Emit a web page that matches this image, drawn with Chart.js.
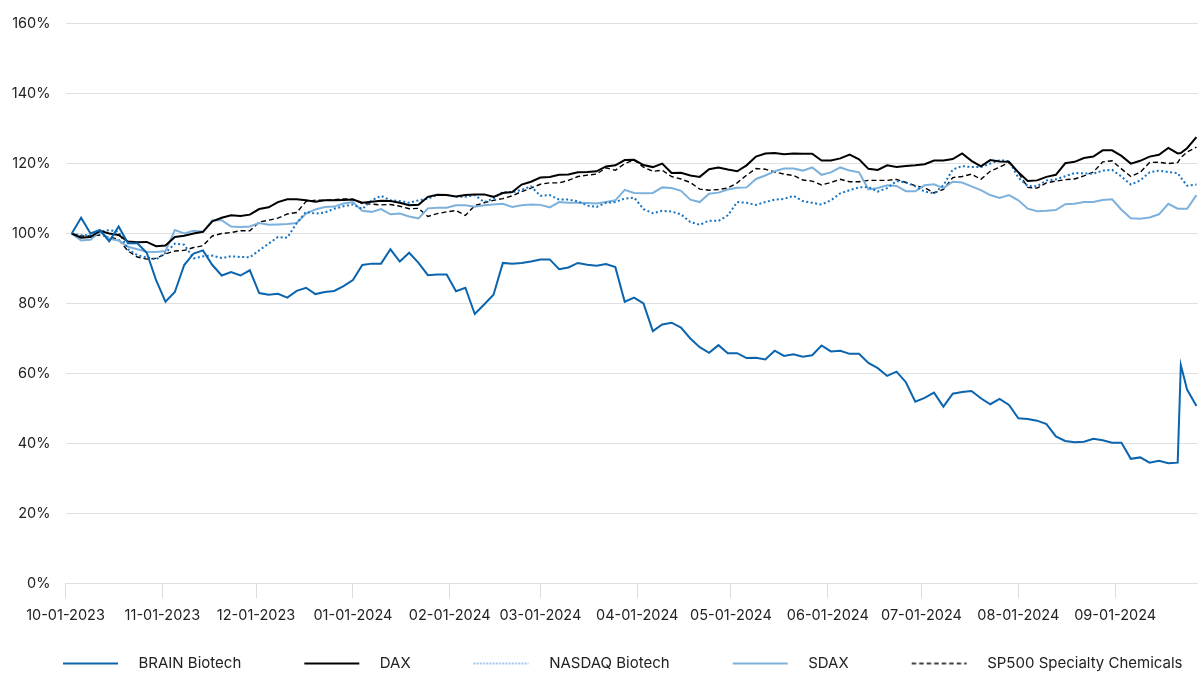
<!DOCTYPE html>
<html>
<head>
<meta charset="utf-8">
<script src="https://cdn.jsdelivr.net/npm/chart.js@4.4.1/dist/chart.umd.min.js"></script>
<style>
  html, body { margin: 0; padding: 0; overflow: hidden; background: #ffffff; }
  #wrap { position: relative; width: 1198px; height: 681px; }
</style>
</head>
<body>
<div id="wrap"><canvas id="chart"></canvas></div>
<script>
// Day offsets counted from 10-01-2023
const days = [
  2,5,8,11,14,17,20,23,26,29,
  32,35,38,41,44,47,50,53,56,59,
  62,65,68,71,74,77,80,83,86,89,
  92,95,98,101,104,107,110,113,116,119,
  122,125,128,131,134,137,140,143,146,149,
  152,155,158,161,164,167,170,173,176,179,
  182,185,188,191,194,197,200,203,206,209,
  212,215,218,221,224,227,230,233,236,239,
  242,245,248,251,254,257,260,263,266,269,
  272,275,278,281,284,287,290,293,296,299,
  302,305,308,311,314,317,320,323,326,329,
  332,335,338,341,344,347,350,353,356,
  357,359,362
];

const tickDays = [0,31,61,92,123,152,183,213,244,274,305,336];
const tickLabels = ['10-01-2023','11-01-2023','12-01-2023','01-01-2024','02-01-2024','03-01-2024',
                    '04-01-2024','05-01-2024','06-01-2024','07-01-2024','08-01-2024','09-01-2024'];

const brainBiotech = [
  100,104.5,100,101,97.8,102,97.2,97.2,94.5,86.7,
  80.5,83.3,91,94.3,95.2,91,88,89,88,89.5,
  83,82.5,82.8,81.7,83.6,84.5,82.7,83.3,83.6,85,
  86.7,91,91.4,91.4,95.5,92,94.5,91.6,88.1,88.3,
  88.3,83.5,84.5,77,79.7,82.5,91.6,91.4,91.6,92,
  92.6,92.6,89.8,90.3,91.6,91.1,90.8,91.3,90.4,80.5,
  81.7,80,72.1,74,74.5,73.1,70,67.5,65.9,68.1,
  65.8,65.8,64.4,64.5,64,66.5,65,65.5,64.8,65.2,
  68,66.3,66.5,65.6,65.6,63,61.5,59.3,60.5,57.5,
  51.9,53,54.5,50.5,54.2,54.7,55,52.9,51.2,52.7,
  51,47.2,47,46.5,45.5,42,40.7,40.3,40.5,41.3,
  40.9,40.2,40.2,35.6,36,34.5,35,34.3,34.5,
  62.4,55.4,50.7
];

const dax = [
  100,98.8,99,100.8,100,99.6,97.7,97.5,97.6,96.4,
  96.6,99,99.4,100,100.5,103.5,104.5,105.2,105,105.4,
  107,107.5,109,109.8,109.8,109.5,109.1,109.5,109.5,109.6,
  109.7,108.8,109.1,109.4,109.3,108.8,108.1,108.2,110.5,111.1,
  111,110.6,111,111.2,111.2,110.5,111.6,111.9,114,114.8,
  116,116.2,116.8,116.9,117.5,117.6,117.8,119.2,119.5,121,
  121.1,119.6,119,120,117.3,117.4,116.6,116.2,118.4,118.9,
  118.3,117.8,119.5,122,122.9,123,122.7,122.9,122.8,122.8,
  120.9,120.9,121.5,122.6,121.2,118.5,118.2,119.5,119,119.3,
  119.5,119.8,120.9,120.9,121.3,122.9,120.8,119.2,121,120.6,
  120.5,117.5,115,115.2,116.2,116.8,120.1,120.5,121.6,122,
  123.8,123.8,122.2,120,120.8,122,122.5,124.5,122.9,
  123,124.4,127.6
];

const nasdaqBiotech = [
  100,99.5,99.5,100.5,101,100.5,95.5,93.8,93.2,92.6,
  94.5,97.1,96.8,92.9,93.5,93.7,93,93.5,93.3,93.2,
  95.2,97.1,99,98.8,103,106.2,105.7,106,107.1,107.8,
  108.3,107,109.5,110.8,109.5,109.3,108.8,109.5,110,111,
  111,110.5,110.5,111,109,110,111.9,111.8,112.5,113.5,
  110.8,111,109.7,109.7,109.2,108,107.6,108.8,109,110,
  110.3,107,105.8,106.5,106.3,105.5,103.3,102.5,103.7,103.6,
  105.2,109,108.8,108.2,109,109.7,109.9,110.8,109.3,108.8,
  108.3,109.5,111.5,112.4,113.2,113.3,112,113,115,114.6,
  113.5,112,111.5,113.8,118.3,119.3,119,119,120,121,
  120.7,116,113.6,113.5,115.2,115.5,116.4,117.3,117.2,117.1,
  118,118.2,116.3,114,115.2,117.5,118,117.6,117.3,
  116,113.7,114
];

const sdax = [
  100,98,98.2,100.5,98.5,98,96.2,95.5,94.8,94.7,
  95,101,100,100.8,100.5,103.8,103.8,102,101.9,102,
  103,102.5,102.6,102.7,103,105.7,106.9,107.6,107.7,108.6,
  109,106.5,106.2,107,105.5,105.7,104.9,104.3,107.2,107.4,
  107.4,108.1,108.1,107.7,108.1,108.3,108.5,107.6,108.1,108.3,
  108.2,107.5,109,108.8,108.8,108.7,108.6,109,109.5,112.5,
  111.6,111.5,111.6,113.2,113,112.2,109.7,109,111.4,111.7,
  112.6,113.1,113.2,115.6,116.6,117.8,118.6,118.6,118,118.9,
  116.8,117.5,118.9,118,117.5,112.6,113,113.8,113.6,112.1,
  112.1,113.8,114.1,113,114.8,114.6,113.5,112.4,111,110.2,
  111,109.5,107.1,106.4,106.5,106.7,108.4,108.5,109,109,
  109.6,109.8,106.8,104.4,104.2,104.6,105.5,108.5,107.1,
  107.1,107.1,111
];

const sp500SpecialtyChemicals = [
  100,99.3,99.3,99.6,99,98.3,95,93.3,92.7,92.9,
  94.2,95,95.2,96,96.5,99.3,100,100.3,100.8,100.8,
  103.3,103.8,104.4,105.6,106,109.2,109.5,109.5,109.7,109.9,
  109.8,108.6,108.4,108.2,108.3,107.8,107.1,107.2,104.9,105.7,
  106.2,106.6,105.2,108,108.8,109.5,110,110.8,112,113,
  114.1,114.5,114.5,115.2,116.3,116.7,117,118.8,118.1,120,
  121,119,117.8,118.1,116.3,115.6,114.6,112.7,112.4,112.6,
  113,114.5,116.7,118.6,118.4,117.6,117,116.6,115.3,115,
  113.9,114.6,115.5,114.8,114.8,115.2,115.2,115.2,115.5,114.6,
  113.7,113.1,111.6,112.6,116,116.3,117,115.5,117.8,119,
  120.3,117.4,113.2,113,114.5,115,115.4,115.6,116.5,117.6,
  120.5,120.8,118.5,116.3,117.5,120.3,120.4,120,120.3,
  121.7,123.3,124.7
];

const seriesNames = ['BRAIN Biotech','DAX','NASDAQ Biotech','SDAX','SP500 Specialty Chemicals'];
const seriesValues = [brainBiotech, dax, nasdaqBiotech, sdax, sp500SpecialtyChemicals];

const styles = [
  { color: '#0b64ae', width: 2,   dash: [],       legendWidth: 2,   legendDash: [] },
  { color: '#000000', width: 2,   dash: [],       legendWidth: 2,   legendDash: [] },
  { color: '#1673c1', width: 2,   dash: [2, 2.5], legendWidth: 1.2, legendDash: [1.6, 1.6] },
  { color: '#7db1dc', width: 2,   dash: [],       legendWidth: 2.2, legendDash: [] },
  { color: '#000000', width: 1.4, dash: [5, 3],   legendWidth: 1.3, legendDash: [4.5, 3] }
];

const SW_W = 127, SW_GAP = 59, SW_LINE = 55;
function swatch(st) {
  const c = document.createElement('canvas');
  c.width = SW_W; c.height = 6;
  const g = c.getContext('2d');
  g.strokeStyle = st.color;
  g.lineWidth = st.legendWidth;
  g.setLineDash(st.legendDash);
  g.beginPath();
  g.moveTo(SW_GAP, 3);
  g.lineTo(SW_GAP + SW_LINE, 3);
  g.stroke();
  return c;
}
const swatches = styles.map(swatch);

const datasets = seriesNames.map((name, i) => ({
  label: name,
  data: days.map((d, j) => ({ x: d, y: seriesValues[i][j] })),
  borderColor: styles[i].color,
  backgroundColor: styles[i].color,
  borderWidth: styles[i].width,
  borderDash: styles[i].dash,
  pointRadius: 0,
  pointHoverRadius: 0,
  tension: 0,
  fill: false
}));

const FAMILY = 'Inter, Roboto, "DejaVu Sans", sans-serif';
const AXIS_FONT = { family: FAMILY, size: 14.5 };
const LEGEND_FONT = { family: FAMILY, size: 15 };

new Chart(document.getElementById('chart'), {
  type: 'line',
  data: { datasets },
  options: {
    responsive: true,
    maintainAspectRatio: false,
    animation: false,
    events: [],
    layout: { padding: { top: 15, right: 0, bottom: 0, left: 0 } },
    plugins: {
      tooltip: { enabled: false },
      legend: {
        position: 'bottom',
        align: 'start',
        labels: {
          usePointStyle: true,
          pointStyleWidth: SW_W,
          padding: 4,
          color: '#222222',
          font: LEGEND_FONT,
          generateLabels: (chart) => chart.data.datasets.map((ds, i) => ({
            text: ds.label,
            pointStyle: swatches[i],
            fillStyle: 'rgba(0,0,0,0)',
            strokeStyle: 'rgba(0,0,0,0)',
            lineWidth: 0,
            hidden: false,
            datasetIndex: i,
            fontColor: '#222222'
          }))
        }
      }
    },
    scales: {
      x: {
        type: 'linear',
        min: 0,
        max: 362.5,
        afterBuildTicks: (scale) => { scale.ticks = tickDays.map(v => ({ value: v })); },
        afterFit: (scale) => { scale.height = 68.7; },
        ticks: {
          autoSkip: false,
          maxRotation: 0,
          minRotation: 0,
          padding: 9,
          color: '#222222',
          font: AXIS_FONT,
          callback: (v) => tickLabels[tickDays.indexOf(v)]
        },
        grid: { drawOnChartArea: false, tickLength: 15, color: '#dcdcdc', lineWidth: 1 },
        border: { display: false }
      },
      y: {
        min: 0,
        max: 160,
        afterFit: (scale) => { scale.width = 65.5; },
        ticks: {
          stepSize: 20,
          padding: 15,
          color: '#222222',
          font: AXIS_FONT,
          callback: (v) => v + '%'
        },
        grid: { drawTicks: false, color: '#e0e0e0', lineWidth: 1 },
        border: { display: false }
      }
    }
  }
});
</script>
</body>
</html>
